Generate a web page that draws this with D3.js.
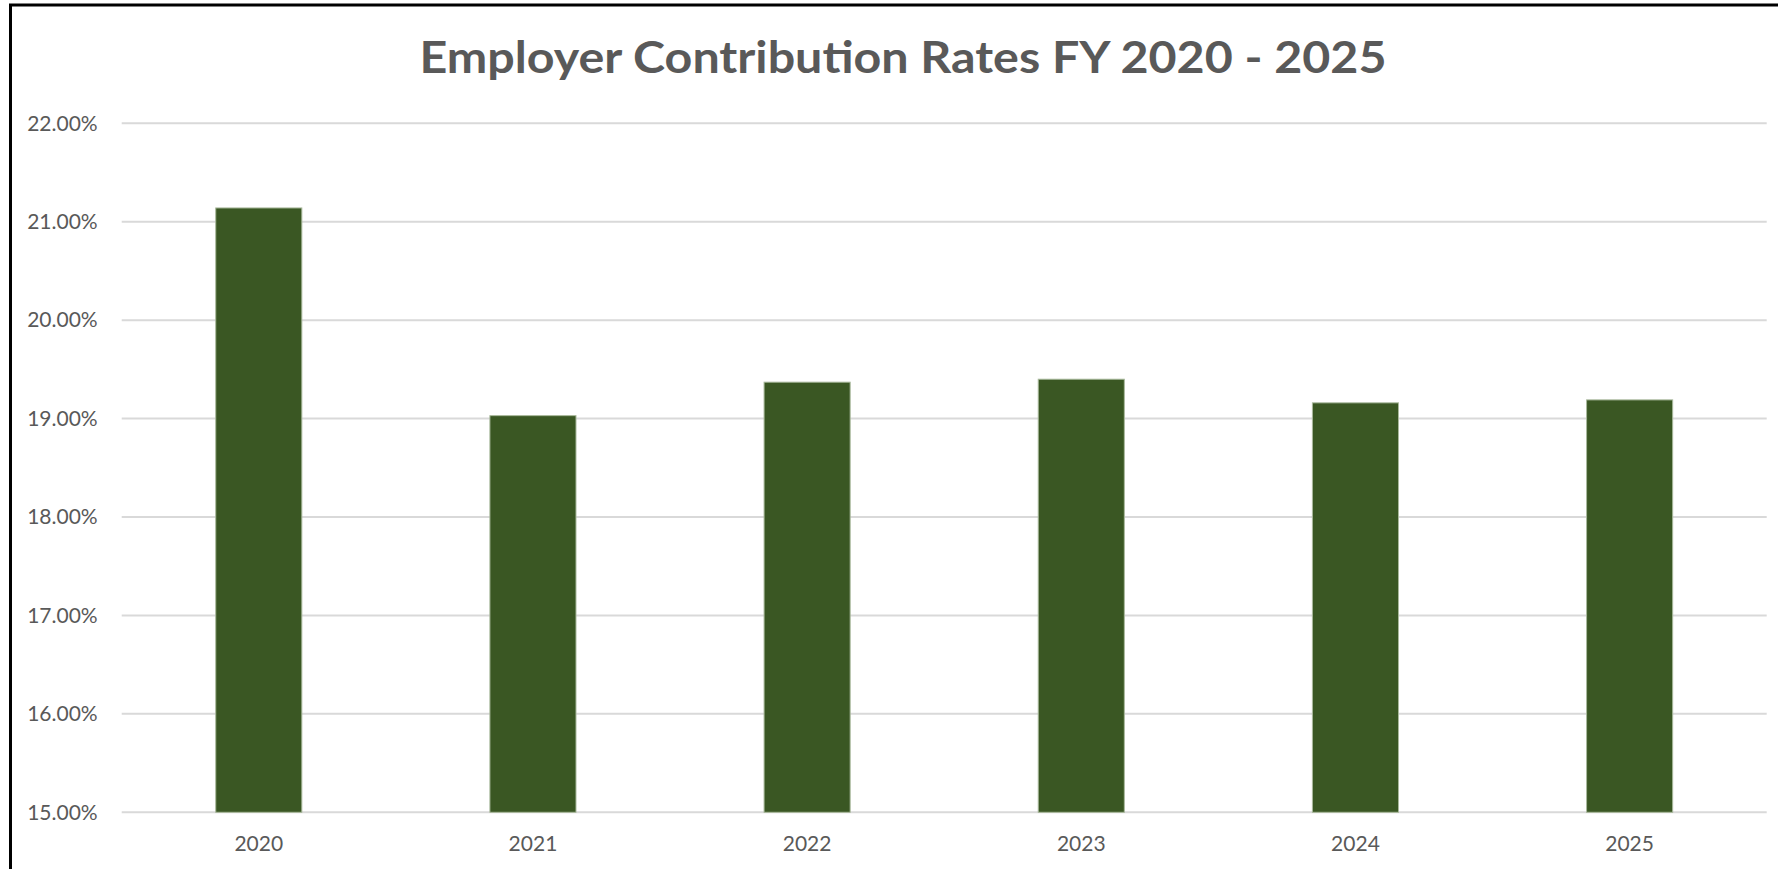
<!DOCTYPE html>
<html>
<head>
<meta charset="utf-8">
<script src="https://cdn.jsdelivr.net/npm/d3@7"></script>
<style>
  body { margin: 0; background: #fff; }
  svg { display: block; }
</style>
</head>
<body>
<svg id="chart" width="1778" height="869"></svg>
<script>
// values
const years = ["2020", "2021", "2022", "2023", "2024", "2025"];
const rates = [21.14, 19.03, 19.37, 19.40, 19.16, 19.19];
const yTicks = [15, 16, 17, 18, 19, 20, 21, 22];

const svg = d3.select("#chart");
const W = 1778, H = 869;
const margin = {top: 123.3, right: 11.3, bottom: 56.7, left: 121.7};
const width = W - margin.left - margin.right,
      height = H - margin.top - margin.bottom;

// frame, runs off the right and bottom of the picture
svg.append("rect")
    .attr("x", 10.5).attr("y", 5)
    .attr("width", W + 20).attr("height", H + 20)
    .attr("fill", "none")
    .attr("stroke", "#000")
    .attr("stroke-width", 3);

svg.append("text")
    .attr("x", 903)
    .attr("y", 73)
    .attr("text-anchor", "middle")
    .attr("fill", "#595959")
    .style("font-family", "Lato, 'Open Sans', sans-serif")
    .style("font-weight", "bold")
    .style("font-size", "44px")
    .attr("textLength", 967)
    .attr("lengthAdjust", "spacingAndGlyphs")
    .text("Employer Contribution Rates FY 2020 - 2025");

const g = svg.append("g").attr("transform", `translate(${margin.left},${margin.top})`);

const x = d3.scaleBand()
    .domain(years)
    .range([0, width])
    .paddingInner(0.686)
    .paddingOuter(0.343);

const y = d3.scaleLinear()
    .domain([15, 22])
    .range([height, 0]);

// gridlines
g.append("g")
    .selectAll("line")
    .data(yTicks)
    .enter().append("line")
    .attr("x1", 0).attr("x2", width)
    .attr("y1", d => y(d)).attr("y2", d => y(d))
    .attr("stroke", "#d9d9d9")
    .attr("stroke-width", 2);

// y axis labels
const yAxis = g.append("g")
    .call(d3.axisLeft(y).tickValues(yTicks).tickFormat(d => d.toFixed(2) + "%").tickSize(0).tickPadding(24));
yAxis.select(".domain").remove();
yAxis.selectAll("text")
    .attr("fill", "#595959")
    .style("font-family", "Lato, 'Open Sans', sans-serif")
    .style("font-size", "21px");

// bars
g.append("g")
    .selectAll("rect")
    .data(rates)
    .enter().append("rect")
    .attr("x", (d, i) => x(years[i]))
    .attr("y", d => y(d))
    .attr("width", x.bandwidth())
    .attr("height", d => height - y(d))
    .attr("fill", "#3a5723")
    .attr("stroke", "#a9b99c")
    .attr("stroke-width", 1);

// x axis labels
const xAxis = g.append("g")
    .attr("transform", `translate(0,${height})`)
    .call(d3.axisBottom(x).tickSize(0).tickPadding(24));
xAxis.select(".domain").remove();
xAxis.selectAll("text")
    .attr("fill", "#595959")
    .style("font-family", "Lato, 'Open Sans', sans-serif")
    .style("font-size", "21px");
</script>
</body>
</html>
